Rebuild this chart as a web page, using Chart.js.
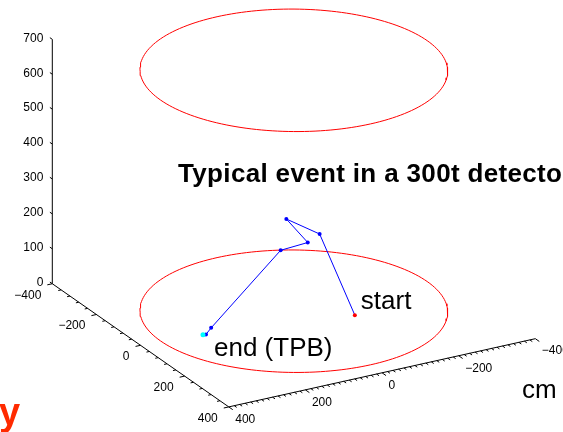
<!DOCTYPE html>
<html>
<head>
<meta charset="utf-8">
<script src="https://cdn.jsdelivr.net/npm/chart.js@4/dist/chart.umd.min.js"></script>
<style>
  html, body { margin: 0; padding: 0; background: #fff; overflow: hidden; }
  canvas { display: block; }
</style>
</head>
<body>
<canvas id="c" width="563" height="432"></canvas>
<script>
// Detector volume (cm): a cylinder shown by its floor and ceiling rings
const detectorRadius = 348;
const detectorFloor = 0;
const detectorCeiling = 690;

// Reconstructed track, from the start vertex to the end on the TPB-coated wall (cm)
const trackX = [155, 164, 105, 124, 81, 129, 142, 139];
const trackY = [-70, 27, 80, 35, 81, 290, 311, 317];
const trackZ = [40, 300, 330, 260, 230, 80, 72, 71];

// Axis tick values
const xTicks = [-400, -200, 0, 200, 400];
const yTicks = [-400, -200, 0, 200, 400];
const zTicks = [0, 100, 200, 300, 400, 500, 600, 700];
const xMinorStep = 40;
const yMinorStep = 200 / 14;

// Fixed 3D view: each world axis maps to a 2D direction on the drawing plane
const VIEW = {
  origin: [294, 313],
  ex: [0.22375, 0.15688],
  ey: [-0.38875, 0.086875],
  ez: [0, -0.3557]
};
function project(x, y, z) {
  return {
    x: VIEW.origin[0] + x * VIEW.ex[0] + y * VIEW.ey[0] + z * VIEW.ez[0],
    y: VIEW.origin[1] + x * VIEW.ex[1] + y * VIEW.ey[1] + z * VIEW.ez[1]
  };
}

const box = { x0: -400, x1: 400, y0: -400, y1: 400, z0: 0, z1: 700 };

// Circle outline of the cylinder at a given height
function ring(z) {
  const pts = [];
  const n = 180;
  for (let i = 0; i <= n; i++) {
    const a = (i / n) * Math.PI * 2;
    pts.push(project(detectorRadius * Math.cos(a), detectorRadius * Math.sin(a), z));
  }
  return pts;
}

// Axis lines and tick marks as separate segments (null breaks the line)
const segs = [];
function seg(a, b) {
  segs.push(project(a[0], a[1], a[2]), project(b[0], b[1], b[2]), { x: null, y: null });
}
seg([box.x0, box.y1, box.z0], [box.x0, box.y1, box.z1]);   // vertical axis
seg([box.x0, box.y1, box.z0], [box.x1, box.y1, box.z0]);   // left-front axis
seg([box.x1, box.y1, box.z0], [box.x1, box.y0, box.z0]);   // right-front axis

zTicks.forEach(z => seg([box.x0, box.y1, z], [box.x0 - 11, box.y1, z]));
for (let x = box.x0; x <= box.x1 + 1e-6; x += xMinorStep) {
  const major = xTicks.some(t => Math.abs(t - x) < 1e-6);
  seg([x, box.y1, box.z0], [x, box.y1 + (major ? 13 : 7.5), box.z0]);
}
for (let k = 0; k <= 56; k++) {
  const y = box.y0 + k * yMinorStep;
  const major = yTicks.some(t => Math.abs(t - y) < 1e-6);
  seg([box.x1, y, box.z0], [box.x1 + (major ? 18 : 11), y, box.z0]);
}

const trackPts = trackX.map((x, i) => project(x, trackY[i], trackZ[i]));
const last = trackPts.length - 1;
const trackColors = trackPts.map((p, i) => i === 0 ? '#ff0000' : (i === last ? '#00ffff' : '#0000ff'));
const trackRadius = trackPts.map((p, i) => i === last ? 2.5 : 2);

const FONT = '"Liberation Sans", Arial, Helvetica, sans-serif';
const fmt = v => (v < 0 ? '\u2212' + Math.abs(v) : String(v));

const textPlugin = {
  id: 'sceneText',
  afterDraw(chart) {
    const { ctx, scales } = chart;
    const px = p => ({ x: scales.x.getPixelForValue(p.x), y: scales.y.getPixelForValue(p.y) });
    ctx.save();
    ctx.fillStyle = '#000';
    ctx.font = '12px ' + FONT;
    ctx.textBaseline = 'middle';

    // vertical axis labels
    ctx.textAlign = 'right';
    zTicks.forEach(z => {
      const p = px(project(box.x0, box.y1, z));
      ctx.fillText(fmt(z), p.x - 9, p.y - 1);
    });
    // left-front axis labels
    xTicks.forEach(x => {
      const p = px(project(x, box.y1, box.z0));
      ctx.fillText(fmt(x), p.x - 11, p.y + 11.5);
    });
    // right-front axis labels
    ctx.textAlign = 'left';
    yTicks.forEach(y => {
      const p = px(project(box.x1, y, box.z0));
      ctx.fillText(fmt(y), p.x + 6.5, p.y + 12.5);
    });

    ctx.textBaseline = 'alphabetic';
    ctx.font = '26px ' + FONT;
    const s = px(trackPts[0]);
    ctx.fillText('start', s.x + 6, s.y - 6);
    const e = px(trackPts[last]);
    ctx.fillText('end (TPB)', e.x + 11, e.y + 21);
    ctx.fillText('cm', 522, 398);

    // title
    ctx.font = 'bold 26px ' + FONT;
    const title = 'Typical event in a 300t detector';
    const shown = 'Typical event in a 300t detecto';
    if ('letterSpacing' in ctx) {
      const w = ctx.measureText(shown).width;
      ctx.letterSpacing = Math.max(0, (384 - w) / (shown.length - 1)) + 'px';
    }
    ctx.fillText(title, 178, 182);
    if ('letterSpacing' in ctx) ctx.letterSpacing = '0px';

    ctx.fillStyle = '#ff2a00';
    ctx.font = 'bold 38px ' + FONT;
    ctx.fillText('y', -1, 425);
    ctx.restore();
  }
};

new Chart(document.getElementById('c'), {
  type: 'scatter',
  data: {
    datasets: [
      {
        label: 'track',
        data: trackPts,
        showLine: true,
        borderColor: '#0000ff',
        borderWidth: 1,
        pointRadius: trackRadius,
        pointBackgroundColor: trackColors,
        pointBorderColor: trackColors,
        pointBorderWidth: 0,
        order: 0
      },
      {
        label: 'ceiling',
        data: ring(detectorCeiling),
        showLine: true,
        borderColor: '#ff0000',
        borderWidth: 1,
        pointRadius: 0,
        order: 1
      },
      {
        label: 'floor',
        data: ring(detectorFloor),
        showLine: true,
        borderColor: '#ff0000',
        borderWidth: 1,
        pointRadius: 0,
        order: 1
      },
      {
        label: 'axes',
        data: segs,
        showLine: true,
        spanGaps: false,
        borderColor: '#000000',
        borderWidth: 1,
        pointRadius: 0,
        order: 2
      }
    ]
  },
  options: {
    responsive: false,
    animation: false,
    devicePixelRatio: 1,
    layout: { padding: 0 },
    elements: { line: { tension: 0 } },
    scales: {
      x: { type: 'linear', min: 0, max: 563, display: false },
      y: { type: 'linear', min: 0, max: 432, reverse: true, display: false }
    },
    plugins: { legend: { display: false }, tooltip: { enabled: false } }
  },
  plugins: [textPlugin]
});
</script>
</body>
</html>
